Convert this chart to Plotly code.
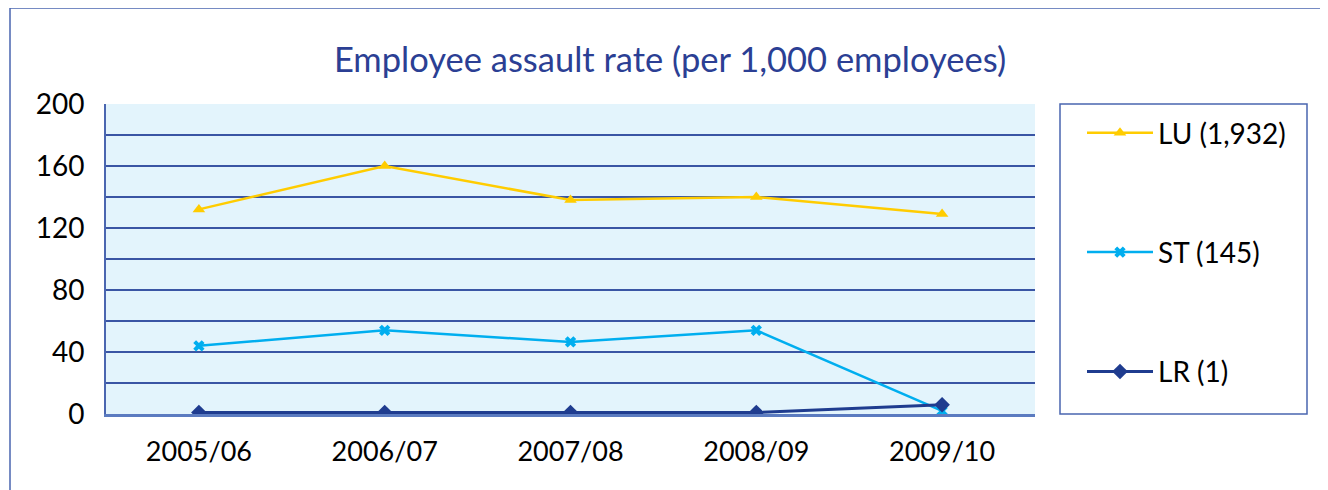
import plotly.graph_objects as go

categories = ["2005/06", "2006/07", "2007/08", "2008/09", "2009/10"]
lu_values = [132, 160, 138, 140, 129]
st_values = [44, 54, 46.5, 54, 2]
lr_values = [1, 1, 1, 1, 6]
series_names = ["LU (1,932)", "ST (145)", "LR (1)"]
y_tickvals = [0, 20, 40, 60, 80, 100, 120, 140, 160, 180, 200]
y_ticktext = ["0", "", "40", "", "80", "", "120", "", "160", "", "200"]

FONT = "Lato"
OFF = 8  # page body margin
W, H = 1328 - OFF, 490 - OFF
L, R, T, B = 106 - OFF, 1035 - OFF, 104 - OFF, 414 - OFF

def px_x(p):
    return (p - OFF - L) / (R - L)

def px_y(p):
    return (B - (p - OFF)) / (B - T)

fig = go.Figure()
fig.add_trace(go.Scatter(
    x=categories, y=lu_values, name=series_names[0], mode="lines+markers",
    line=dict(color="#FFCC00", width=2.5),
    marker=dict(symbol="triangle-up", size=11, color="#FFCC00"),
    legendgroup="a"))
fig.add_trace(go.Scatter(
    x=categories, y=st_values, name=series_names[1], mode="lines+markers",
    line=dict(color="#00AEEF", width=2.5),
    marker=dict(symbol="x", size=10, color="#00AEEF"),
    legendgroup="b"))
fig.add_trace(go.Scatter(
    x=categories, y=lr_values, name=series_names[2], mode="lines+markers",
    line=dict(color="#1F3C8F", width=3),
    marker=dict(symbol="diamond", size=12, color="#1F3C8F"),
    legendgroup="c"))

fig.update_layout(
    width=W, height=H,
    margin=dict(l=L, r=W - R, t=T, b=H - B, pad=0),
    paper_bgcolor="white",
    plot_bgcolor="#E3F4FC",
    font=dict(family=FONT, size=27, color="black"),
    title=dict(text="Employee assault rate (per 1,000 employees)",
               font=dict(family=FONT, size=34.5, color="#2B3F94"),
               x=(670 - OFF) / W, xanchor="center", xref="container",
               y=1 - (60 - OFF) / H, yanchor="middle", yref="container"),
    xaxis=dict(type="category", range=[-0.5, 4.5], showgrid=False,
               showline=True, linecolor="#5B7BC0", linewidth=3,
               ticks="", ticklabelstandoff=12,
               tickfont=dict(family=FONT, size=27, color="black"),
               zeroline=False, fixedrange=True),
    yaxis=dict(range=[0, 200], tickvals=y_tickvals, ticktext=y_ticktext,
               showgrid=True, gridcolor="#3A55A4", gridwidth=1.5,
               showline=True, linecolor="#4A66B0", linewidth=2,
               ticks="", ticklabelstandoff=14,
               tickfont=dict(family=FONT, size=28, color="black"),
               zeroline=False, fixedrange=True),
    showlegend=True,
    legend=dict(x=px_x(1082), y=px_y(108), xanchor="left", yanchor="top",
                bgcolor="rgba(0,0,0,0)", borderwidth=0,
                traceorder="grouped", tracegroupgap=80,
                font=dict(family=FONT, size=28, color="black"),
                itemwidth=66),
    shapes=[
        dict(type="rect", xref="paper", yref="paper",
             x0=px_x(10), x1=px_x(1345), y0=px_y(505), y1=px_y(8),
             line=dict(color="#4A66B0", width=1.5), fillcolor="rgba(0,0,0,0)",
             layer="below"),
        dict(type="rect", xref="paper", yref="paper",
             x0=px_x(1060), x1=px_x(1307), y0=px_y(414), y1=px_y(104),
             line=dict(color="#4A66B0", width=1.5), fillcolor="rgba(0,0,0,0)",
             layer="below"),
    ],
)

fig.write_html("out.html")
